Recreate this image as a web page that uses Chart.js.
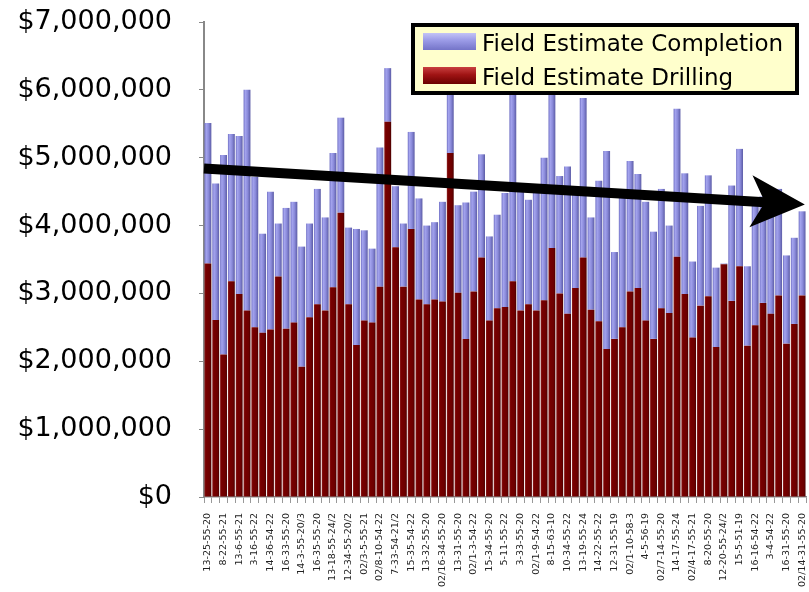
<!DOCTYPE html>
<html>
<head>
<meta charset="utf-8">
<title>Field Estimates by Well</title>
<style>
  body { margin: 0; background: #fff; }
  #wrap { width: 809px; height: 592px; }
</style>
</head>
<body>
<div id="wrap"><canvas id="costChart" width="809" height="592"></canvas></div>

<script src="https://cdn.jsdelivr.net/npm/chart.js"></script>
<script>
// well names - only every second well gets a name on the axis
var wellLabels = [
  '13-25-55-20', '8-22-55-21', '13-6-55-21', '3-16-55-22', '14-36-54-22', '16-33-55-20',
  '14-3-55-20/3', '16-35-55-20', '13-18-55-24/2', '12-34-55-20/2', '02/3-5-55-21',
  '02/8-10-54-22', '7-33-54-21/2', '15-35-54-22', '13-32-55-20', '02/16-34-55-20',
  '13-31-55-20', '02/1-3-54-22', '15-34-55-20', '5-11-55-22', '3-33-55-20', '02/1-9-54-22',
  '8-15-63-10', '10-34-55-22', '13-19-55-24', '14-22-55-22', '12-31-55-19', '02/1-10-58-3',
  '4-5-56-19', '02/7-14-55-20', '14-17-55-24', '02/4-17-55-21', '8-20-55-20',
  '12-20-55-24/2', '15-5-51-19', '16-16-54-22', '3-4-54-22', '16-31-55-20', '02/14-31-55-20'
];

var drilling = [
  3440000, 2610000, 2100000, 3180000, 2990000, 2750000, 2500000, 2420000, 2470000, 3250000,
  2480000, 2570000, 1920000, 2650000, 2840000, 2750000, 3090000, 4190000, 2840000, 2240000,
  2600000, 2570000, 3100000, 5530000, 3680000, 3100000, 3950000, 2910000, 2840000, 2910000,
  2880000, 5070000, 3010000, 2330000, 3030000, 3530000, 2600000, 2780000, 2800000, 3180000,
  2750000, 2840000, 2750000, 2900000, 3670000, 3000000, 2700000, 3080000, 3530000, 2760000,
  2590000, 2180000, 2330000, 2500000, 3030000, 3080000, 2600000, 2330000, 2780000, 2710000,
  3540000, 2990000, 2350000, 2820000, 2960000, 2210000, 3430000, 2890000, 3400000, 2230000,
  2530000, 2860000, 2700000, 2970000, 2260000, 2550000, 2970000
];

var completion = [
  2070000, 2010000, 2940000, 2170000, 2330000, 3250000, 2220000, 1460000, 2030000, 780000,
  1780000, 1780000, 1770000, 1380000, 1700000, 1370000, 1980000, 1400000, 1130000, 1710000,
  1330000, 1090000, 2050000, 790000, 900000, 930000, 1430000, 1490000, 1160000, 1140000,
  1470000, 1910000, 1290000, 2010000, 1470000, 1520000, 1240000, 1380000, 1680000, 2970000,
  1800000, 1540000, 1730000, 2100000, 2380000, 1730000, 2170000, 1420000, 2350000, 1360000,
  2070000, 2920000, 1280000, 1950000, 1920000, 1680000, 1750000, 1580000, 1760000, 1290000,
  2180000, 1780000, 1120000, 1470000, 1780000, 1170000, 10000, 1700000, 1730000, 1170000,
  1770000, 1570000, 1820000, 1570000, 1300000, 1270000, 1240000
];

// downward trend arrow, value at first and last well
var trendEnds = [4840000, 4310000];

var yTicks = [0, 1000000, 2000000, 3000000, 4000000, 5000000, 6000000, 7000000];

var categories = [];
for (var i = 0; i < drilling.length; i++) {
  categories.push(i % 2 === 0 ? wellLabels[i / 2] : '');
}

var BAR_PCT = 0.88;

var blueStops = [[0, '#7070c4'], [0.25, '#a4a4ee'], [0.6, '#8a8ada'], [1, '#5c5ca6']];
var redStops = [[0, '#8c2424'], [0.2, '#780000'], [0.75, '#6c0000'], [1, '#4a0000']];

// shaded fill across each bar's width
function barFill(stops) {
  return function(ctx) {
    var chart = ctx.chart;
    var xs = chart.scales && chart.scales.x;
    if (!xs || ctx.dataIndex === undefined) return stops[2][1];
    var cx = xs.getPixelForValue(ctx.dataIndex);
    var half = xs.width / categories.length * BAR_PCT / 2;
    if (!isFinite(cx) || !isFinite(half) || half <= 0) return stops[2][1];
    var g = chart.ctx.createLinearGradient(cx - half, 0, cx + half, 0);
    stops.forEach(function(s) { g.addColorStop(s[0], s[1]); });
    return g;
  };
}

var trendArrow = {
  id: 'trendArrow',
  afterDatasetsDraw: function(chart) {
    var xs = chart.scales.x, ys = chart.scales.y, c = chart.ctx;
    var step = xs.width / categories.length;
    var x0 = chart.chartArea.left;
    var y0 = ys.getPixelForValue(trendEnds[0]);
    var x1 = xs.getPixelForValue(categories.length - 1) + step * 0.35;
    var y1 = ys.getPixelForValue(trendEnds[1]);
    var ang = Math.atan2(y1 - y0, x1 - x0);
    var cos = Math.cos(ang), sin = Math.sin(ang);
    var headLen = 54, headHalf = 26, notch = 14;
    var bx = x1 - headLen * cos, by = y1 - headLen * sin;
    c.save();
    c.strokeStyle = '#000';
    c.lineWidth = 10;
    c.beginPath();
    c.moveTo(x0, y0);
    c.lineTo(bx + (notch + 4) * cos, by + (notch + 4) * sin);
    c.stroke();
    c.fillStyle = '#000';
    c.beginPath();
    c.moveTo(x1, y1);
    c.lineTo(bx + headHalf * sin, by - headHalf * cos);
    c.lineTo(bx + notch * cos, by + notch * sin);
    c.lineTo(bx - headHalf * sin, by + headHalf * cos);
    c.closePath();
    c.fill();
    c.restore();
  }
};

var boxLegend = {
  id: 'boxLegend',
  afterDraw: function(chart, args, opts) {
    var c = chart.ctx;
    var items = [
      { text: chart.data.datasets[1].label, top: '#c4c4f6', mid: '#9a9ae6', bot: '#7474c8' },
      { text: chart.data.datasets[0].label, top: '#c84040', mid: '#a01414', bot: '#6a0000' }
    ];
    c.save();
    c.fillStyle = '#ffffcc';
    c.fillRect(opts.x, opts.y, opts.w, opts.h);
    c.lineWidth = 4;
    c.strokeStyle = '#000';
    c.strokeRect(opts.x, opts.y, opts.w, opts.h);
    c.font = '23px "DejaVu Sans"';
    c.textBaseline = 'alphabetic';
    items.forEach(function(it, k) {
      var sy = opts.y + 8 + k * 34;
      var g = c.createLinearGradient(0, sy, 0, sy + 17);
      g.addColorStop(0, it.top);
      g.addColorStop(0.45, it.mid);
      g.addColorStop(1, it.bot);
      c.fillStyle = g;
      c.fillRect(opts.x + 10, sy, 53, 17);
      c.fillStyle = '#000';
      c.fillText(it.text, opts.x + 69, sy + 18);
    });
    c.restore();
  }
};

new Chart(document.getElementById('costChart'), {
  type: 'bar',
  data: {
    labels: categories,
    datasets: [
      {
        label: 'Field Estimate Drilling',
        data: drilling,
        backgroundColor: barFill(redStops),
        borderWidth: 0,
        barPercentage: BAR_PCT,
        categoryPercentage: 1
      },
      {
        label: 'Field Estimate Completion',
        data: completion,
        backgroundColor: barFill(blueStops),
        borderWidth: 0,
        barPercentage: BAR_PCT,
        categoryPercentage: 1
      }
    ]
  },
  options: {
    responsive: false,
    animation: false,
    layout: { padding: { top: 22, right: 3, left: 0, bottom: 0 } },
    plugins: {
      legend: { display: false },
      tooltip: { enabled: false },
      boxLegend: { x: 413, y: 25, w: 384, h: 68 }
    },
    scales: {
      x: {
        stacked: true,
        offset: true,
        border: { display: true, color: '#888', width: 1.5 },
        grid: { drawOnChartArea: false, drawTicks: true, tickLength: 6, color: '#999', offset: true },
        ticks: {
          autoSkip: false,
          maxRotation: 90,
          minRotation: 90,
          padding: 10,
          color: '#222',
          font: { family: 'DejaVu Sans', size: 9.5 }
        },
        afterFit: function(s) {
          s.height = 95;
          s.paddingLeft = 0;
          s.paddingRight = 0;
        }
      },
      y: {
        stacked: true,
        min: 0,
        max: 7000000,
        border: { display: true, color: '#888', width: 2 },
        grid: { drawOnChartArea: false, tickLength: 5, color: '#888' },
        afterBuildTicks: function(s) {
          s.ticks = yTicks.map(function(v) { return { value: v }; });
        },
        ticks: {
          padding: 27,
          color: '#000',
          font: { family: 'DejaVu Sans', size: 27 },
          callback: function(v) { return '$' + Number(v).toLocaleString('en-US'); }
        },
        afterFit: function(s) {
          s.width = 204;
          s.paddingTop = 0;
          s.paddingBottom = 0;
        }
      }
    }
  },
  plugins: [trendArrow, boxLegend]
});
</script>
</body>
</html>
